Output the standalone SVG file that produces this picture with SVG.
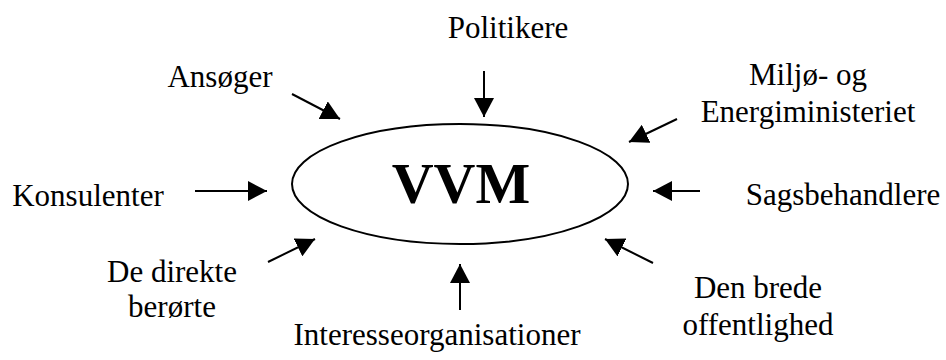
<svg xmlns="http://www.w3.org/2000/svg" width="946" height="360" viewBox="0 0 946 360">
<style>
  text { font-family: "Liberation Serif", serif; fill: #000; text-anchor: middle; }
  .lbl { font-size: 31px; }
  .title { font-size: 58px; font-weight: bold; }
  .conn line { stroke: #000; stroke-width: 2; marker-end: url(#head); }
</style>
<defs>
  <marker id="head" markerUnits="userSpaceOnUse" markerWidth="20" markerHeight="20" refX="19" refY="10" orient="auto">
    <path d="M0,0 L19,10 L0,20 Z" fill="#000"/>
  </marker>
</defs>
<rect width="946" height="360" fill="#fff"/>
<g id="vvm">
  <ellipse cx="460" cy="184" rx="168" ry="60" fill="none" stroke="#000" stroke-width="2"/>
  <text class="title" x="461" y="203">VVM</text>
</g>
<g id="politikere"><text class="lbl" x="508" y="38">Politikere</text></g>
<g id="ansoger"><text class="lbl" x="220" y="87">Ansøger</text></g>
<g id="miljo"><text class="lbl" x="808" y="85">Miljø- og</text><text class="lbl" x="808" y="122">Energiministeriet</text></g>
<g id="konsulenter"><text class="lbl" x="88" y="206">Konsulenter</text></g>
<g id="sagsbehandlere"><text class="lbl" x="843" y="205">Sagsbehandlere</text></g>
<g id="direkte"><text class="lbl" x="172" y="282">De direkte</text><text class="lbl" x="172" y="317">berørte</text></g>
<g id="interesse"><text class="lbl" x="437" y="345">Interesseorganisationer</text></g>
<g id="offentlighed"><text class="lbl" x="758" y="298">Den brede</text><text class="lbl" x="758" y="335">offentlighed</text></g>
<g id="connectors" class="conn">
  <line x1="484" y1="71" x2="484" y2="117"/>
  <line x1="292" y1="94" x2="340" y2="119"/>
  <line x1="677" y1="119" x2="629" y2="142"/>
  <line x1="195" y1="191" x2="267" y2="191"/>
  <line x1="700" y1="191" x2="653" y2="191"/>
  <line x1="268" y1="262" x2="315" y2="239"/>
  <line x1="460" y1="310" x2="460" y2="264"/>
  <line x1="653" y1="263" x2="605" y2="239"/>
</g>
</svg>
